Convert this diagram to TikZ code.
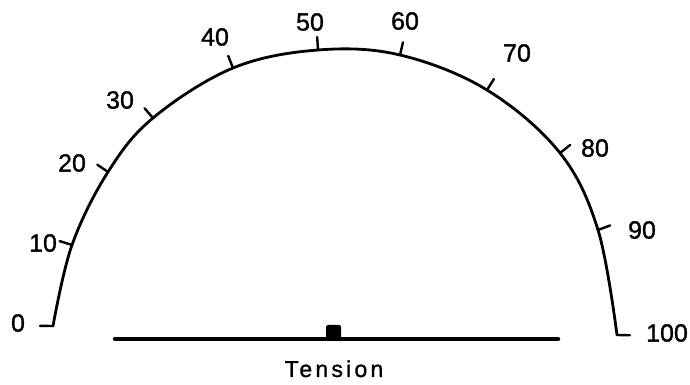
\documentclass[tikz,border=0pt]{standalone}
\usepackage{fontspec}
\setmainfont{Liberation Sans}[FakeBold=1.2]
\usetikzlibrary{calc}
\begin{document}
\begin{tikzpicture}[x=1pt,y=1pt,line cap=round,line join=round,
  arcline/.style={line width=2.8pt},
  tickline/.style={line width=2.4pt},
  numlabel/.style={inner sep=0pt,font=\fontsize{25}{30}\selectfont},
  barline/.style={line width=4.5pt}]
\useasboundingbox (0,0) rectangle (690,385);
\fill[white] (0,0) rectangle (690,385);
\coordinate (c) at (336,56);
\coordinate (p0) at (53,59);
\coordinate (p1) at (72,140);
\coordinate (p2) at (108,213);
\coordinate (p3) at (153,267);
\coordinate (p4) at (233,317);
\coordinate (p5) at (318,335);
\coordinate (p6) at (400,330);
\coordinate (p7) at (487,295);
\coordinate (p8) at (560,232);
\coordinate (p9) at (598,155);
\coordinate (p10) at (617,50);
\draw[arcline] plot[smooth,tension=0.6] coordinates {(p0) (p1) (p2) (p3) (p4) (p5) (p6) (p7) (p8) (p9) (p10)};
\foreach \i in {0,...,10}{
  \draw[tickline] (p\i) -- ($(p\i)!-13pt!(c)$);
}
\node[numlabel] (l0) at (18,62) {0};
\node[numlabel] (l1) at (43,142) {10};
\node[numlabel] (l2) at (72,222) {20};
\node[numlabel] (l3) at (120,285) {30};
\node[numlabel] (l4) at (215,348) {40};
\node[numlabel] (l5) at (310,363) {50};
\node[numlabel] (l6) at (405,364) {60};
\node[numlabel] (l7) at (517,332) {70};
\node[numlabel] (l8) at (595,237) {80};
\node[numlabel] (l9) at (642,155) {90};
\node[numlabel] (l10) at (667,52) {100};
\coordinate (b1) at (115,46);
\coordinate (b2) at (558,46);
\draw[barline] (b1) -- (b2);
\fill[rounded corners=2pt] (326,46) rectangle (341,60);
\node[inner sep=0pt,anchor=base,font=\fontsize{23}{28}\selectfont\addfontfeature{LetterSpace=14}] (t) at (334,8) {Tension};
\end{tikzpicture}
\end{document}
